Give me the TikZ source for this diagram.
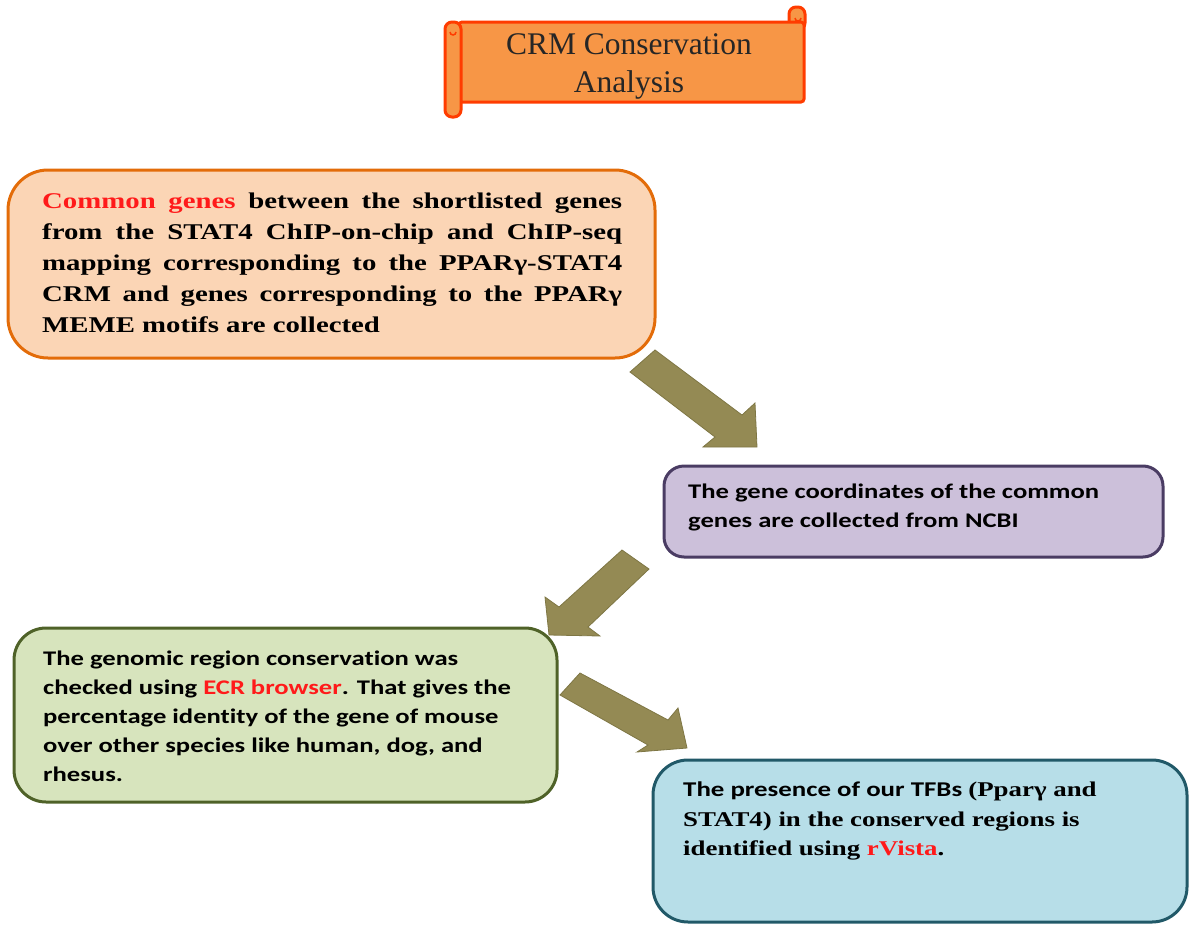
\documentclass[tikz,border=0pt]{standalone}
\usepackage{fontspec}
\setmainfont{Liberation Serif}
\newfontfamily\tb{Liberation Serif Bold}[FakeStretch=1.28]
\newfontfamily\cb{Carlito Bold}[FakeStretch=1.28, Ligatures=NoCommon]
\definecolor{scrollfill}{HTML}{F79646}
\definecolor{scrolldraw}{HTML}{FF3C00}
\definecolor{peachfill}{HTML}{FBD5B5}
\definecolor{peachdraw}{HTML}{E36C09}
\definecolor{lilacfill}{HTML}{CCC0DA}
\definecolor{lilacdraw}{HTML}{4A3C63}
\definecolor{greenfill}{HTML}{D7E4BD}
\definecolor{greendraw}{HTML}{4F6228}
\definecolor{bluefill}{HTML}{B7DEE8}
\definecolor{bluedraw}{HTML}{215968}
\definecolor{olivefill}{HTML}{948A54}
\definecolor{olivedraw}{HTML}{7E7644}
\definecolor{hired}{HTML}{FF1A1A}
\tikzset{
  stepbox/.style={draw, line width=3pt, inner sep=0pt},
  steptext/.style={anchor=north west, inner sep=0pt, align=left},
  blockarrow/.style={fill=olivefill, draw=olivedraw, line width=0.8pt, line join=miter},
  scrollpart/.style={fill=scrollfill, draw=scrolldraw, line width=3pt}
}
\begin{document}
\begin{tikzpicture}[x=1pt,y=-1pt]
\useasboundingbox (0,0) rectangle (1189,926);

% title scroll
\draw[scrollpart, rounded corners=7pt] (789,7) rectangle (805,30);
\draw[scrollpart, rounded corners=3pt] (459,22) rectangle (804,102);
\draw[scrolldraw, line width=1.5pt] (795,18) arc[start angle=180, end angle=0, radius=3];
\draw[scrollpart, rounded corners=7pt] (445,22) rectangle (461,117);
\draw[scrolldraw, line width=1.5pt] (450,32) arc[start angle=180, end angle=0, radius=3];
\node[inner sep=0pt, align=center, font=\fontsize{31.5}{38}\selectfont, text=black!85] (title) at (629,66) {CRM Conservation\\Analysis};

% boxes
\node[stepbox, fill=peachfill, draw=peachdraw, rounded corners=40pt, minimum width=647pt, minimum height=188pt] (b1) at (331.5,264) {};
\node[stepbox, fill=lilacfill, draw=lilacdraw, rounded corners=20pt, minimum width=499pt, minimum height=91pt] (b2) at (913.5,511.5) {};
\node[stepbox, fill=greenfill, draw=greendraw, rounded corners=32pt, minimum width=543pt, minimum height=174pt] (b3) at (285.5,715) {};
\node[stepbox, fill=bluefill, draw=bluedraw, rounded corners=35pt, minimum width=534pt, minimum height=162pt] (b4) at (920,841) {};

% texts
\node[steptext, font=\fontsize{22.5}{31}\selectfont\tb] (t1) at (42,193) {%
\makebox[580pt][s]{\textcolor{hired}{Common genes} between the shortlisted genes}\\
\makebox[580pt][s]{from the STAT4 ChIP-on-chip and ChIP-seq}\\
\makebox[580pt][s]{mapping corresponding to the PPARγ-STAT4}\\
\makebox[580pt][s]{CRM and genes corresponding to the PPARγ}\\
MEME motifs are collected};

\node[steptext, font=\fontsize{20.8}{29}\selectfont\cb] (t2) at (688,484) {%
The gene coordinates of the common\\
genes are collected from NCBI};

\node[steptext, font=\fontsize{20.8}{29}\selectfont\cb] (t3) at (43,651) {%
The genomic region conservation was\\
checked using \textcolor{hired}{ECR browser}. That gives the\\
percentage identity of the gene of mouse\\
over other species like human, dog, and\\
rhesus.};

\node[steptext, font=\fontsize{21}{29.5}\selectfont] (t4) at (683,782) {%
{\cb The presence of our TFBs }{\tb (Pparγ and}\\
{\tb STAT4) in the conserved regions is}\\
{\tb identified using \textcolor{hired}{rVista}.}};

% block arrows
\draw[blockarrow] (630,372) -- (655,350) -- (742,415) -- (755,403) -- (757,447) -- (703,447) -- (715,437) -- cycle;
\draw[blockarrow] (622,550) -- (649,569) -- (588,627) -- (600,636) -- (549,635) -- (545,597) -- (559,607) -- cycle;
\draw[blockarrow] (580,673) -- (668,720) -- (678,708) -- (687,748) -- (637,752) -- (648,745) -- (560,695) -- cycle;
\end{tikzpicture}
\end{document}
